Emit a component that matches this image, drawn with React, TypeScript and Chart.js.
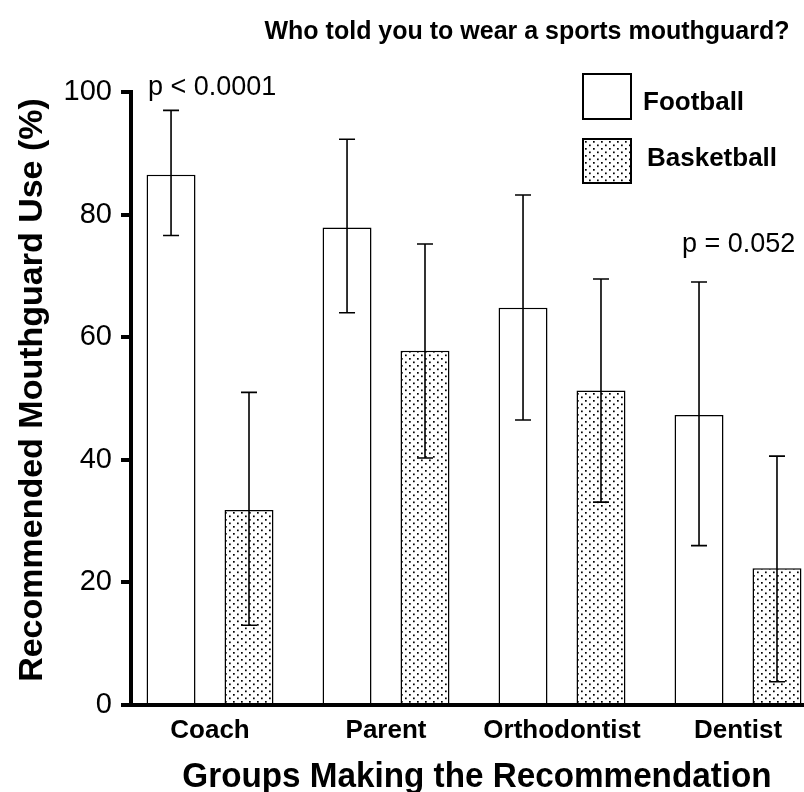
import { useEffect, useRef } from 'react';
import { Chart, registerables } from 'chart.js';

Chart.register(...registerables);

const categories = ['Coach', 'Parent', 'Orthodontist', 'Dentist'];
const football = [86.5, 77.9, 64.8, 47.3];
const footballUpper = [97.0, 92.3, 83.2, 69.0];
const footballLower = [76.6, 64.0, 46.5, 26.0];
const basketball = [31.8, 57.8, 51.3, 22.3];
const basketballUpper = [51.0, 75.2, 69.5, 40.6];
const basketballLower = [13.0, 40.3, 33.1, 3.8];
const yTickValues = [0, 20, 40, 60, 80, 100];
const seriesNames = ['Football', 'Basketball'];
const titleText = 'Who told you to wear a sports mouthguard?';
const yTitle = 'Recommended Mouthguard Use (%)';
const xTitle = 'Groups Making the Recommendation';
const pCoach = 'p < 0.0001';
const pDentist = 'p = 0.052';

const FONT = '"Liberation Sans", Arial, Helvetica, sans-serif';

function makeStipple(): CanvasPattern | string {
  const c = document.createElement('canvas');
  c.width = 8;
  c.height = 7;
  const g = c.getContext('2d');
  if (!g) return '#ddd';
  g.fillStyle = '#fff';
  g.fillRect(0, 0, 8, 7);
  g.fillStyle = '#000';
  g.fillRect(1, 1, 1.7, 1.7);
  g.fillRect(5, 4.5, 1.7, 1.7);
  return g.createPattern(c, 'repeat') || '#ddd';
}

export default function App() {
  const ref = useRef<HTMLCanvasElement>(null);

  useEffect(() => {
    const canvas = ref.current;
    if (!canvas) return;
    const stipple = makeStipple();

    const errorBars = {
      id: 'errorBars',
      afterDatasetsDraw(chart: any) {
        const ctx = chart.ctx;
        const y = chart.scales.y;
        const sets = [
          [footballLower, footballUpper],
          [basketballLower, basketballUpper],
        ];
        ctx.save();
        ctx.strokeStyle = '#000';
        ctx.lineWidth = 1.6;
        sets.forEach(([lo, hi], di) => {
          const meta = chart.getDatasetMeta(di);
          meta.data.forEach((bar: any, i: number) => {
            const x = bar.x;
            const yl = y.getPixelForValue(lo[i]);
            const yh = y.getPixelForValue(hi[i]);
            ctx.beginPath();
            ctx.moveTo(x, yl);
            ctx.lineTo(x, yh);
            ctx.moveTo(x - 8, yl);
            ctx.lineTo(x + 8, yl);
            ctx.moveTo(x - 8, yh);
            ctx.lineTo(x + 8, yh);
            ctx.stroke();
          });
        });
        ctx.restore();
      },
    };

    const annotations = {
      id: 'annotations',
      afterDraw(chart: any) {
        const ctx = chart.ctx;
        ctx.save();
        ctx.fillStyle = '#000';
        ctx.textBaseline = 'alphabetic';

        // title
        ctx.font = `bold 25px ${FONT}`;
        ctx.textAlign = 'center';
        ctx.fillText(titleText, 527, 39);

        // x title (slightly condensed, like the original)
        ctx.save();
        ctx.translate(477, 787);
        ctx.scale(0.95, 1);
        ctx.font = `bold 35px ${FONT}`;
        ctx.textAlign = 'center';
        ctx.fillText(xTitle, 0, 0);
        ctx.restore();

        // y title
        ctx.save();
        ctx.translate(42, 390);
        ctx.rotate(-Math.PI / 2);
        ctx.font = `bold 34px ${FONT}`;
        ctx.textAlign = 'center';
        ctx.fillText(yTitle, 0, 0);
        ctx.restore();

        // p values
        ctx.font = `27px ${FONT}`;
        ctx.textAlign = 'left';
        ctx.fillText(pCoach, 148, 95);
        ctx.fillText(pDentist, 682, 252);

        // legend
        ctx.lineWidth = 2;
        ctx.strokeStyle = '#000';
        ctx.fillStyle = '#fff';
        ctx.fillRect(583, 74, 48, 45);
        ctx.strokeRect(583, 74, 48, 45);
        ctx.fillStyle = stipple as any;
        ctx.fillRect(583, 139, 48, 44);
        ctx.strokeRect(583, 139, 48, 44);
        ctx.fillStyle = '#000';
        ctx.font = `bold 26px ${FONT}`;
        ctx.fillText(seriesNames[0], 643, 110);
        ctx.fillText(seriesNames[1], 647, 166);
        ctx.restore();
      },
    };

    const chart = new Chart(canvas, {
      type: 'bar',
      data: {
        datasets: [
          {
            label: seriesNames[0],
            data: categories.map((_, i) => ({ x: i, y: football[i] })),
            backgroundColor: '#fff',
            borderColor: '#000',
            borderWidth: 1.5,
            categoryPercentage: 0.886,
            barPercentage: 0.628,
          },
          {
            label: seriesNames[1],
            data: categories.map((_, i) => ({ x: i, y: basketball[i] })),
            backgroundColor: stipple as any,
            borderColor: '#000',
            borderWidth: 1.5,
            categoryPercentage: 0.886,
            barPercentage: 0.628,
          },
        ],
      },
      options: {
        animation: false,
        responsive: false,
        devicePixelRatio: 1,
        layout: { padding: { top: 92, left: 0, right: 0, bottom: 0 } },
        plugins: {
          legend: { display: false },
          tooltip: { enabled: false },
          title: { display: false },
        },
        scales: {
          x: {
            type: 'linear',
            min: -0.449,
            max: 3.375,
            offset: false,
            afterBuildTicks: (s: any) => {
              s.ticks = categories.map((_, i) => ({ value: i }));
            },
            afterFit: (s: any) => {
              s.height = 87;
            },
            ticks: {
              callback: (v: any) => categories[v as number] ?? '',
              font: { family: FONT, size: 26, weight: 'bold' },
              color: '#000',
              padding: 10,
              maxRotation: 0,
              autoSkip: false,
            },
            grid: { drawOnChartArea: false, drawTicks: false },
            border: { display: true, width: 4, color: '#000' },
          },
          y: {
            min: 0,
            max: 100,
            afterBuildTicks: (s: any) => {
              s.ticks = yTickValues.map((v) => ({ value: v }));
            },
            afterFit: (s: any) => {
              s.width = 131;
            },
            ticks: {
              font: { family: FONT, size: 29 },
              color: '#000',
              padding: 9,
            },
            grid: {
              drawOnChartArea: false,
              drawTicks: true,
              tickLength: 10,
              lineWidth: 4,
              color: '#000',
            },
            border: { display: true, width: 4, color: '#000' },
          },
        },
      } as any,
      plugins: [errorBars, annotations],
    });

    return () => chart.destroy();
  }, []);

  return (
    <div style={{ position: 'absolute', left: 0, top: 0, width: 804, height: 792, background: '#fff' }}>
      <canvas ref={ref} width={804} height={792} style={{ display: 'block', width: 804, height: 792 }} />
    </div>
  );
}
